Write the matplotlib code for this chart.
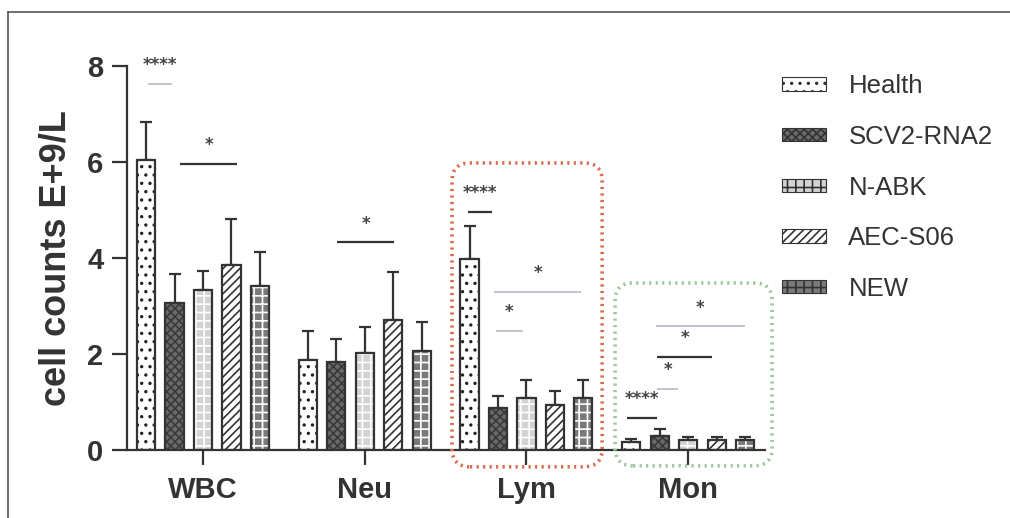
import numpy as np
import matplotlib
matplotlib.use("Agg")
import matplotlib.pyplot as plt
from matplotlib.patches import FancyBboxPatch, Patch

plt.rcParams['font.family'] = ['Liberation Sans', 'DejaVu Sans']
plt.rcParams['hatch.linewidth'] = 1.2

# data
groups = ['WBC', 'Neu', 'Lym', 'Mon']
series = ['Health', 'SCV2-RNA2', 'N-ABK', 'AEC-S06', 'NEW']

health = [6.05, 1.87, 3.98, 0.16]
scv2 = [3.06, 1.83, 0.88, 0.30]
nabk = [3.33, 2.02, 1.08, 0.21]
aec = [3.85, 2.71, 0.94, 0.21]
new = [3.42, 2.07, 1.08, 0.21]

health_sd = [0.78, 0.61, 0.69, 0.07]
scv2_sd = [0.61, 0.48, 0.24, 0.14]
nabk_sd = [0.40, 0.54, 0.38, 0.07]
aec_sd = [0.96, 1.00, 0.29, 0.07]
new_sd = [0.70, 0.59, 0.38, 0.07]

# significance marks: x start, x end, line height, label, faint?
sig_x0 = [-0.34, -0.14, 0.83, 1.64, 1.80, 1.81, 2.62, 2.81, 2.81, 2.80]
sig_x1 = [-0.19, 0.21, 1.18, 1.79, 2.34, 1.98, 2.81, 2.94, 3.15, 3.35]
sig_y = [7.63, 5.96, 4.33, 4.96, 3.29, 2.48, 0.67, 1.27, 1.94, 2.58]
sig_txt = ['****', '*', '*', '****', '*', '*', '****', '*', '*', '*']
sig_faint = [True, False, False, False, True, True, False, True, False, True]

means = [health, scv2, nabk, aec, new]
sds = [health_sd, scv2_sd, nabk_sd, aec_sd, new_sd]

# fill, hatch, hatch colour
styles = [
    ('white', '..', '#222222'),
    ('#6a6a6a', 'xxxx', '#3a3a3a'),
    ('#d2d2d2', '++', 'white'),
    ('white', '////', '#333333'),
    ('#7a7a7a', '++', 'white'),
]

ink = '#333333'
fig = plt.figure(figsize=(10.1, 5.18), dpi=100)
ax = fig.add_axes([127 / 1010, 1 - 450 / 518, 638 / 1010, 384 / 518])

x = np.arange(len(groups))
slot = 0.176
width = 0.112
handles = []
for i, (m, s) in enumerate(zip(means, sds)):
    fc, hatch, hc = styles[i]
    pos = x + (i - 2) * slot
    ax.bar(pos, m, width, color=fc, hatch=hatch, edgecolor=hc, linewidth=0, zorder=2)
    ax.bar(pos, m, width, fill=False, edgecolor=ink, linewidth=1.6, zorder=3)
    ax.errorbar(pos, m, yerr=[np.zeros(len(s)), s], fmt='none', ecolor=ink,
                elinewidth=1.6, capsize=4, capthick=1.6, zorder=1)
    handles.append(Patch(facecolor=fc, hatch=hatch, edgecolor=hc, linewidth=0))

for x0, x1, yy, t, faint in zip(sig_x0, sig_x1, sig_y, sig_txt, sig_faint):
    col = '#b9bec8' if faint else '#333333'
    ax.plot([x0, x1], [yy, yy], color=col, lw=1.3 if faint else 1.6,
            solid_capstyle='butt', clip_on=False, zorder=4)
    ax.text((x0 + x1) / 2, yy + 0.2, t, ha='center', va='bottom', fontsize=12,
            fontweight='bold', color='#444444', family='DejaVu Sans')

ax.set_xlim(-0.47, 3.475)
ax.set_ylim(0, 8)
ax.set_yticks([0, 2, 4, 6, 8])
ax.set_xticks(x)
ax.set_xticklabels(groups)
for sp in ['top', 'right']:
    ax.spines[sp].set_visible(False)
for sp in ['left', 'bottom']:
    ax.spines[sp].set_linewidth(1.6)
    ax.spines[sp].set_color(ink)
ax.tick_params(axis='both', length=11, width=1.6, color=ink, labelcolor=ink,
               labelsize=21, pad=6)
ax.tick_params(axis='x', pad=8)
for lab in ax.get_xticklabels() + ax.get_yticklabels():
    lab.set_fontweight('bold')
ax.set_ylabel('cell counts E+9/L', fontsize=26, fontweight='bold', color=ink, labelpad=10)

# highlight boxes around Lym and Mon
px_x = 3.945 / 638
px_y = 8 / 384
r = 18 * px_x
for x0, x1, y0, y1, col in [(1.54, 2.468, -0.35, 5.98, '#d9694a'),
                             (2.548, 3.519, -0.33, 3.48, '#9cc79c')]:
    box = FancyBboxPatch((x0, y0), x1 - x0, y1 - y0,
                         boxstyle='round,pad=0,rounding_size=%f' % r,
                         mutation_aspect=px_y / px_x, fill=False, edgecolor=col,
                         linewidth=2.6, linestyle=(0, (0.6, 1.2)), clip_on=False, zorder=5)
    ax.add_patch(box)

leg = fig.legend(handles, series, loc='upper left', bbox_to_anchor=(759 / 1010, 1 - 51 / 518),
                 frameon=False, fontsize=18.5, labelspacing=1.04, handlelength=1.7,
                 handleheight=0.42, handletextpad=0.88, labelcolor=ink)
for p in leg.get_patches():
    p.set_edgecolor(ink)
    p.set_linewidth(0.8)

# scan frame
fig.add_artist(plt.Line2D([8 / 1010, 8 / 1010], [0, 1 - 12 / 518], color='#555555', lw=1.2))
fig.add_artist(plt.Line2D([8 / 1010, 1], [1 - 12 / 518, 1 - 12 / 518], color='#555555', lw=1.2))

fig.savefig('out.png', dpi=100)
